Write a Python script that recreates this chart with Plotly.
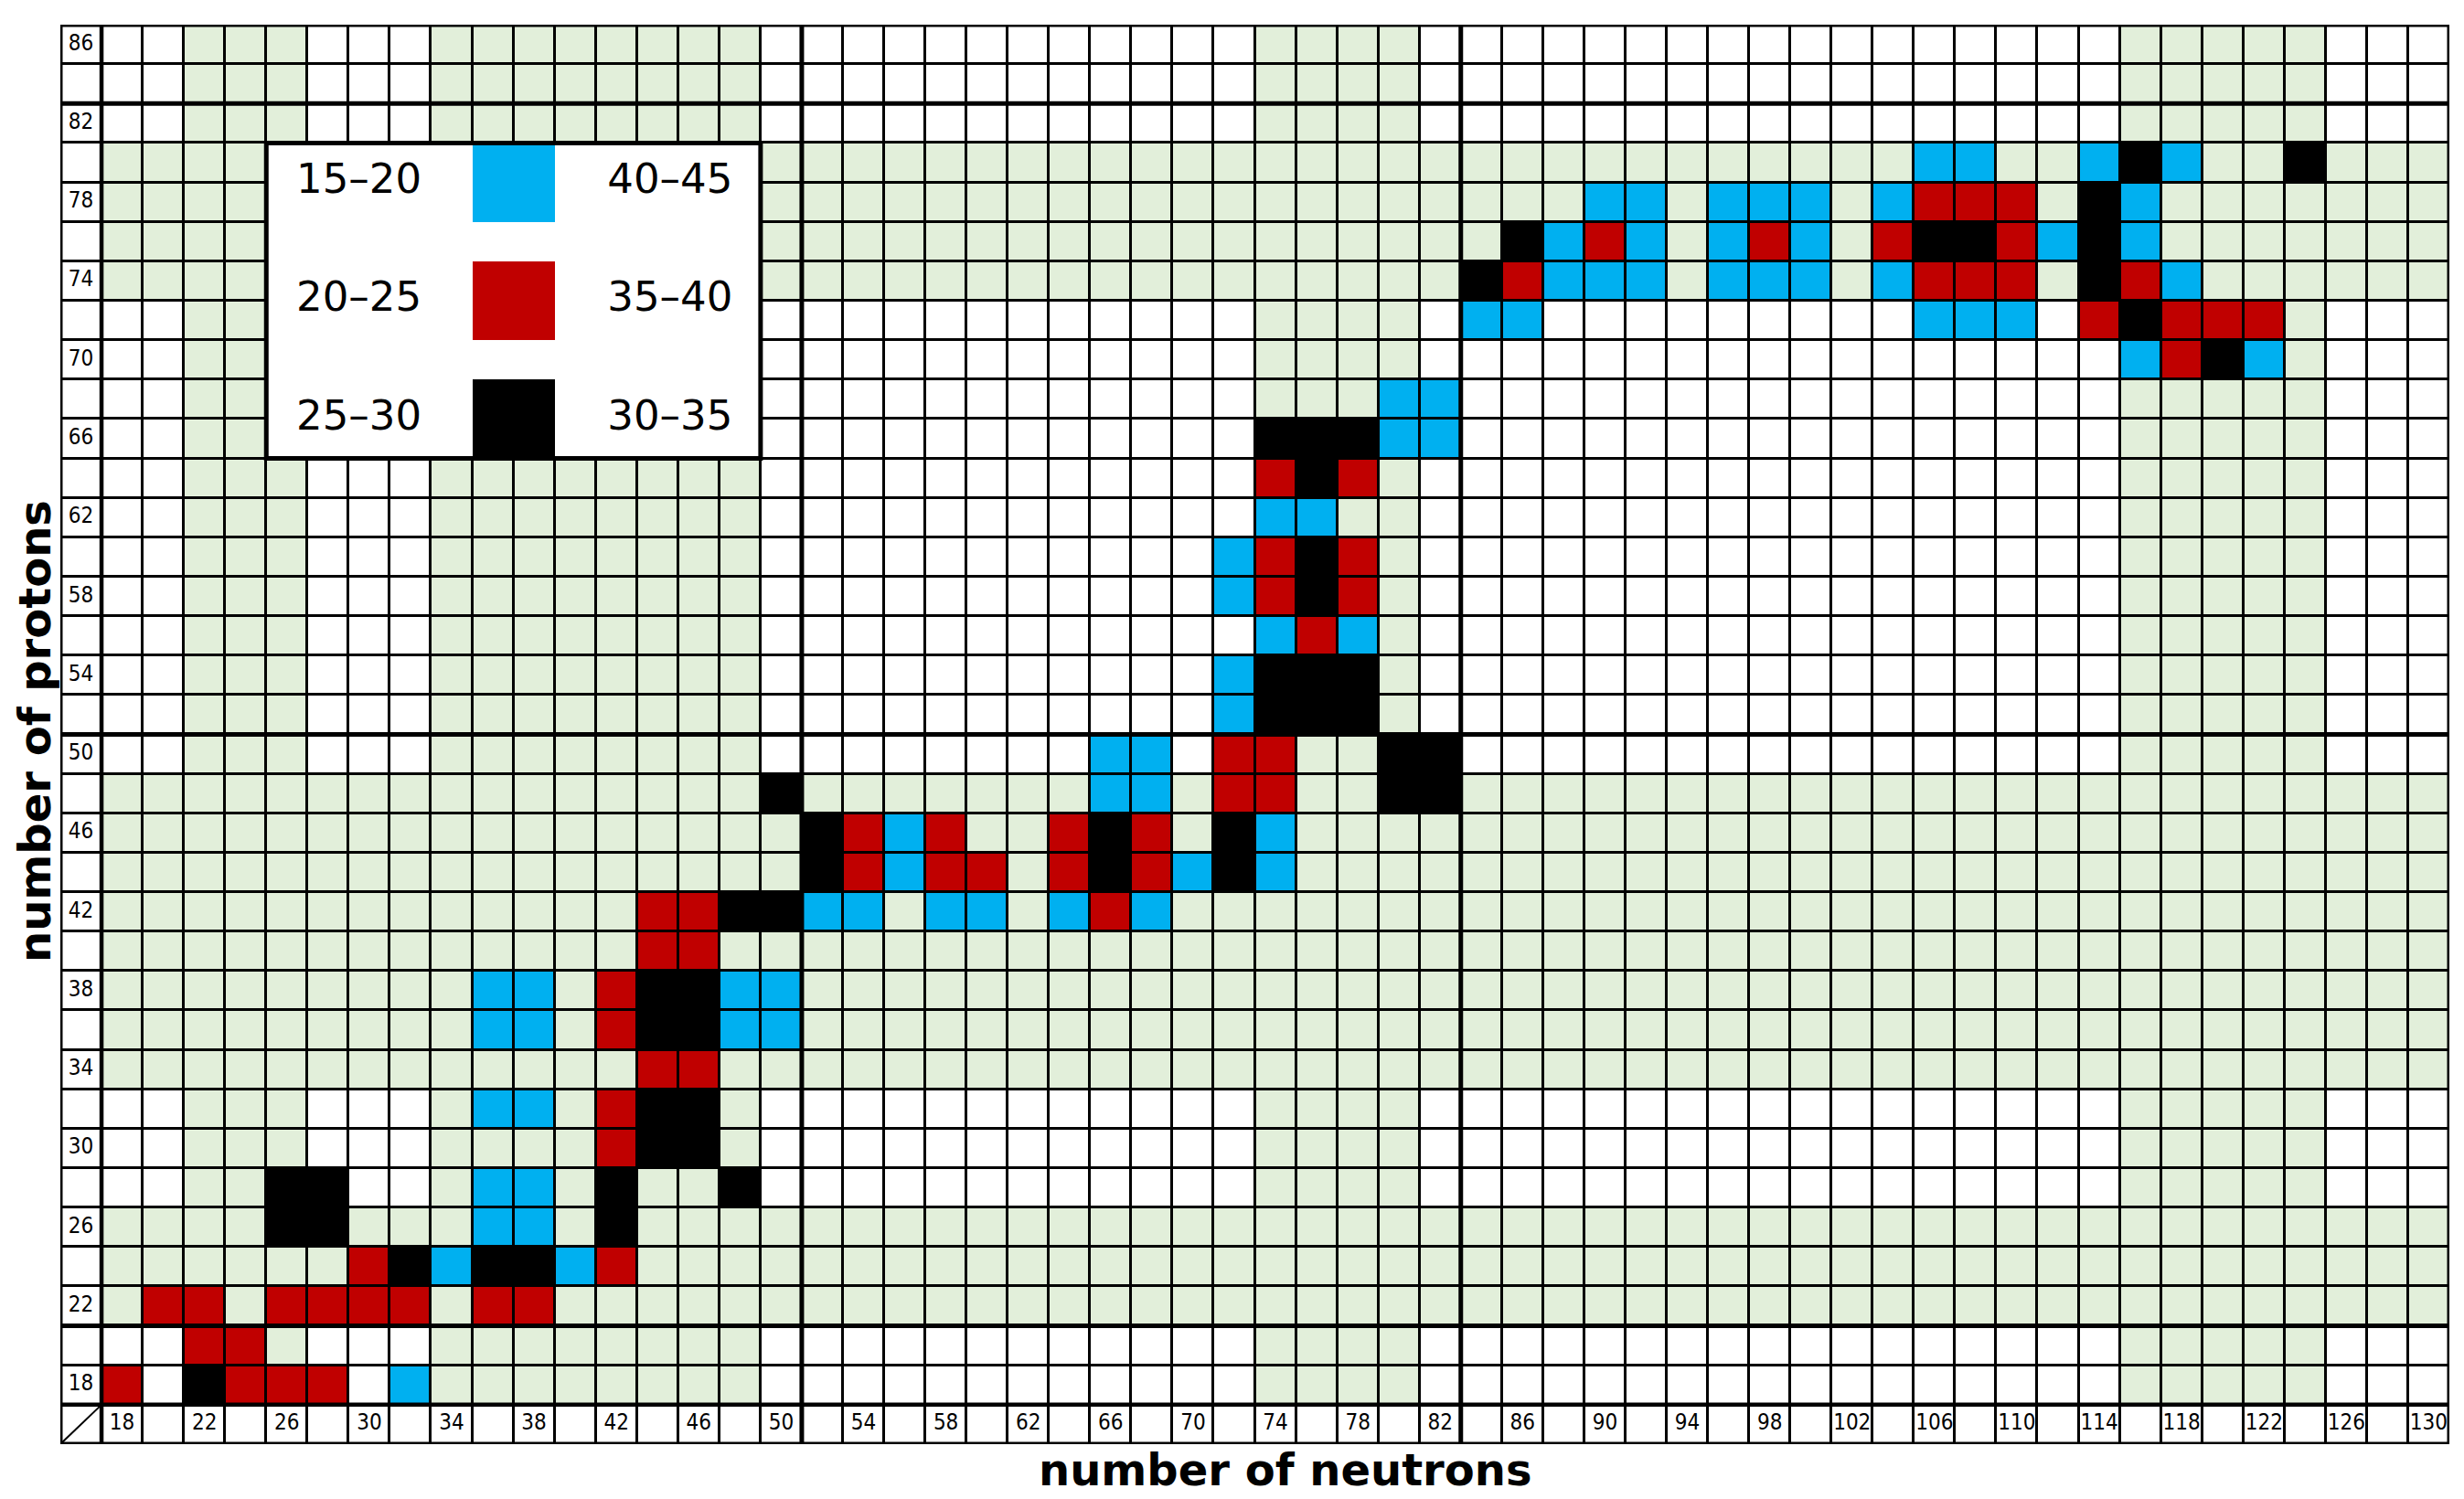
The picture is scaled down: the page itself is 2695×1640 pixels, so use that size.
import plotly.graph_objects as go

# ---------------- data ----------------
N_VALUES = list(range(18, 131, 2))          # neutron numbers (columns)
Z_VALUES = list(range(18, 87, 2))           # proton numbers (rows)
N_TICKS = list(range(18, 131, 4))           # labelled columns
Z_TICKS = list(range(18, 87, 4))            # labelled rows

GREEN_N = [22, 24, 26, 34, 36, 38, 40, 42, 44, 46, 48, 74, 76, 78, 80,
           116, 118, 120, 122, 124]
GREEN_Z = [22, 24, 26, 34, 36, 38, 40, 42, 44, 46, 48, 74, 76, 78, 80]

THICK_N = [50, 82]        # magic neutron numbers with heavy lines
THICK_Z = [20, 50, 82]    # magic proton numbers with heavy lines

# (N, Z) cells per class
BLUE_CELLS = [  # 15-20 / 40-45
    (106, 80), (108, 80), (114, 80), (118, 80),
    (90, 78), (92, 78), (96, 78), (98, 78), (100, 78), (104, 78), (116, 78),
    (88, 76), (92, 76), (96, 76), (100, 76), (112, 76), (116, 76),
    (88, 74), (90, 74), (92, 74), (96, 74), (98, 74), (100, 74), (104, 74), (118, 74),
    (84, 72), (86, 72), (106, 72), (108, 72), (110, 72),
    (116, 70), (122, 70),
    (80, 68), (82, 68),
    (80, 66), (82, 66),
    (74, 62), (76, 62),
    (72, 60), (72, 58),
    (74, 56), (78, 56),
    (72, 54), (72, 52),
    (66, 50), (68, 50), (66, 48), (68, 48),
    (56, 46), (74, 46),
    (56, 44), (70, 44), (74, 44),
    (52, 42), (54, 42), (58, 42), (60, 42), (64, 42), (68, 42),
    (36, 38), (38, 38), (48, 38), (50, 38),
    (36, 36), (38, 36), (48, 36), (50, 36),
    (36, 32), (38, 32),
    (36, 28), (38, 28), (36, 26), (38, 26),
    (34, 24), (40, 24),
    (32, 18),
]
RED_CELLS = [  # 20-25 / 35-40
    (106, 78), (108, 78), (110, 78),
    (90, 76), (98, 76), (104, 76), (110, 76),
    (86, 74), (106, 74), (108, 74), (110, 74), (116, 74),
    (114, 72), (118, 72), (120, 72), (122, 72),
    (118, 70),
    (74, 64), (78, 64),
    (74, 60), (78, 60), (74, 58), (78, 58),
    (76, 56),
    (72, 50), (74, 50), (72, 48), (74, 48),
    (54, 46), (58, 46), (64, 46), (68, 46),
    (54, 44), (58, 44), (60, 44), (64, 44), (68, 44),
    (44, 42), (46, 42), (66, 42),
    (44, 40), (46, 40),
    (42, 38), (42, 36),
    (44, 34), (46, 34),
    (42, 32), (42, 30),
    (30, 24), (42, 24),
    (20, 22), (22, 22), (26, 22), (28, 22), (30, 22), (32, 22), (36, 22), (38, 22),
    (22, 20), (24, 20),
    (18, 18), (24, 18), (26, 18), (28, 18),
]
BLACK_CELLS = [  # 25-30 / 30-35
    (116, 80), (124, 80),
    (114, 78),
    (86, 76), (106, 76), (108, 76), (114, 76),
    (84, 74), (114, 74),
    (116, 72),
    (120, 70),
    (74, 66), (76, 66), (78, 66),
    (76, 64),
    (76, 60), (76, 58),
    (74, 54), (76, 54), (78, 54), (74, 52), (76, 52), (78, 52),
    (80, 50), (82, 50), (50, 48), (80, 48), (82, 48),
    (52, 46), (66, 46), (72, 46),
    (52, 44), (66, 44), (72, 44),
    (48, 42), (50, 42),
    (44, 38), (46, 38), (44, 36), (46, 36),
    (44, 32), (46, 32), (44, 30), (46, 30),
    (26, 28), (28, 28), (42, 28), (48, 28),
    (26, 26), (28, 26), (42, 26),
    (32, 24), (36, 24), (38, 24),
    (22, 18),
]

LEGEND_LEFT = ["15–20", "20–25", "25–30"]
LEGEND_RIGHT = ["40–45", "35–40", "30–35"]
LEGEND_CODES = [2, 3, 4]
LEGEND_N = list(range(26, 49, 2))            # columns covered by legend box
LEGEND_Z = list(range(66, 81, 2))            # rows covered by legend box
SWATCH_N = [36, 38]
SWATCH_Z = [(80, 78), (74, 72), (68, 66)]

X_TITLE = "number of neutrons"
Y_TITLE = "number of protons"

# ---------------- styling ----------------
WHITE = "#FFFFFF"
GREEN = "#E2EFDA"
BLUE = "#00B0F0"
RED = "#C00000"
BLACK = "#000000"
COLORSCALE = [
    [0.0, WHITE], [0.125, WHITE],
    [0.125, GREEN], [0.375, GREEN],
    [0.375, BLUE], [0.625, BLUE],
    [0.625, RED], [0.875, RED],
    [0.875, BLACK], [1.0, BLACK],
]
TICK_FONT = dict(family="Liberation Sans Narrow, Arial Narrow, DejaVu Sans Condensed, sans-serif",
                 size=24, color="black")
LEG_FONT = dict(family="DejaVu Sans, sans-serif", size=45, color="black")
TITLE_FONT = dict(family="DejaVu Sans, sans-serif", size=48, color="black", weight="bold")

LABEL_POS = 16     # position of label column / label row
STEP = 2
X_LO, X_HI = LABEL_POS - STEP / 2, N_VALUES[-1] + STEP / 2
Y_LO, Y_HI = LABEL_POS - STEP / 2, Z_VALUES[-1] + STEP / 2

# ---------------- build matrix ----------------
X_ALL = [LABEL_POS] + N_VALUES
Y_ALL = [LABEL_POS] + Z_VALUES
z = []
for zv in Y_ALL:
    row = []
    for nv in X_ALL:
        if nv == LABEL_POS or zv == LABEL_POS:
            row.append(0)
        elif nv in GREEN_N or zv in GREEN_Z:
            row.append(1)
        else:
            row.append(0)
    z.append(row)
for code, cells in ((2, BLUE_CELLS), (3, RED_CELLS), (4, BLACK_CELLS)):
    for n, p in cells:
        z[Y_ALL.index(p)][X_ALL.index(n)] = code

# legend matrix
zl = [[0 for _ in LEGEND_N] for _ in LEGEND_Z]
for code, pair in zip(LEGEND_CODES, SWATCH_Z):
    for p in pair:
        for n in SWATCH_N:
            zl[LEGEND_Z.index(p)][LEGEND_N.index(n)] = code

fig = go.Figure()
fig.add_trace(go.Heatmap(
    x=X_ALL, y=Y_ALL, z=z, zmin=0, zmax=4, colorscale=COLORSCALE,
    showscale=False, xgap=3, ygap=3, hoverinfo="skip"))
fig.add_trace(go.Heatmap(
    x=LEGEND_N, y=LEGEND_Z, z=zl, zmin=0, zmax=4, colorscale=COLORSCALE,
    showscale=False, xgap=0, ygap=0, hoverinfo="skip"))

# tick labels inside label column / row
fig.add_trace(go.Scatter(
    x=[LABEL_POS] * len(Z_TICKS), y=Z_TICKS, mode="text",
    text=[str(v) for v in Z_TICKS], textfont=TICK_FONT,
    hoverinfo="skip", showlegend=False))
fig.add_trace(go.Scatter(
    x=N_TICKS, y=[LABEL_POS] * len(N_TICKS), mode="text",
    text=[str(v) for v in N_TICKS], textfont=TICK_FONT,
    hoverinfo="skip", showlegend=False))

# legend texts
leg_y = [sum(p) / 2 for p in SWATCH_Z]
LEG_LEFT_X = 29.5
LEG_RIGHT_X = 44.6
fig.add_trace(go.Scatter(
    x=[LEG_LEFT_X] * 3 + [LEG_RIGHT_X] * 3, y=leg_y + leg_y, mode="text",
    text=LEGEND_LEFT + LEGEND_RIGHT, textfont=LEG_FONT,
    hoverinfo="skip", showlegend=False))

shapes = []
# heavy magic-number lines and label separators
for m in THICK_N:
    shapes.append(dict(type="line", xref="x", yref="y", x0=m + 1, x1=m + 1,
                       y0=Y_LO, y1=Y_HI, line=dict(color="black", width=5)))
for m in THICK_Z:
    shapes.append(dict(type="line", xref="x", yref="y", y0=m + 1, y1=m + 1,
                       x0=X_LO, x1=X_HI, line=dict(color="black", width=5)))
shapes.append(dict(type="line", xref="x", yref="y", x0=LABEL_POS + 1, x1=LABEL_POS + 1,
                   y0=Y_LO, y1=Y_HI, line=dict(color="black", width=4.5)))
shapes.append(dict(type="line", xref="x", yref="y", y0=LABEL_POS + 1, y1=LABEL_POS + 1,
                   x0=X_LO, x1=X_HI, line=dict(color="black", width=4.5)))
# corner diagonal
shapes.append(dict(type="line", xref="x", yref="y", x0=X_LO, y0=Y_LO,
                   x1=LABEL_POS + 1, y1=LABEL_POS + 1, line=dict(color="black", width=2)))
# legend frame
shapes.append(dict(type="rect", xref="x", yref="y",
                   x0=LEGEND_N[0] - 1, x1=LEGEND_N[-1] + 1,
                   y0=LEGEND_Z[0] - 1, y1=LEGEND_Z[-1] + 1,
                   line=dict(color="black", width=5), fillcolor="rgba(0,0,0,0)"))
# outer frame
shapes.append(dict(type="rect", xref="x", yref="y", x0=X_LO, x1=X_HI, y0=Y_LO, y1=Y_HI,
                   line=dict(color="black", width=5), fillcolor="rgba(0,0,0,0)"))

# page is offset by the default 8px body margin
OFF = 8
W, H = 2695 - 2 * OFF, 1640 - 2 * OFF
ML, MT = 66 - OFF, 27 - OFF
PW, PH = 2613, 1553
MR, MB = W - ML - PW, H - MT - PH

XT_X, XT_Y = 1406 - OFF, 1608 - OFF      # x-title centre (figure px)
YT_X, YT_Y = 38 - OFF, 800 - OFF         # y-title centre (figure px)

annotations = [
    dict(text=X_TITLE, xref="paper", yref="paper",
         x=(XT_X - ML) / PW, y=((MT + PH) - XT_Y) / PH,
         xanchor="center", yanchor="middle", showarrow=False, font=TITLE_FONT),
    dict(text=Y_TITLE, xref="paper", yref="paper",
         x=(YT_X - ML) / PW, y=((MT + PH) - YT_Y) / PH, textangle=-90,
         xanchor="center", yanchor="middle", showarrow=False, font=TITLE_FONT),
]

fig.update_layout(
    width=W, height=H,
    margin=dict(l=ML, r=MR, t=MT, b=MB, pad=0),
    paper_bgcolor="white", plot_bgcolor="black",
    showlegend=False,
    xaxis=dict(range=[X_LO, X_HI], showgrid=False, zeroline=False,
               showticklabels=False, ticks="", fixedrange=True),
    yaxis=dict(range=[Y_LO, Y_HI], showgrid=False, zeroline=False,
               showticklabels=False, ticks="", fixedrange=True),
    shapes=shapes, annotations=annotations,
)

fig.write_html("out.html", config={"displayModeBar": False})
